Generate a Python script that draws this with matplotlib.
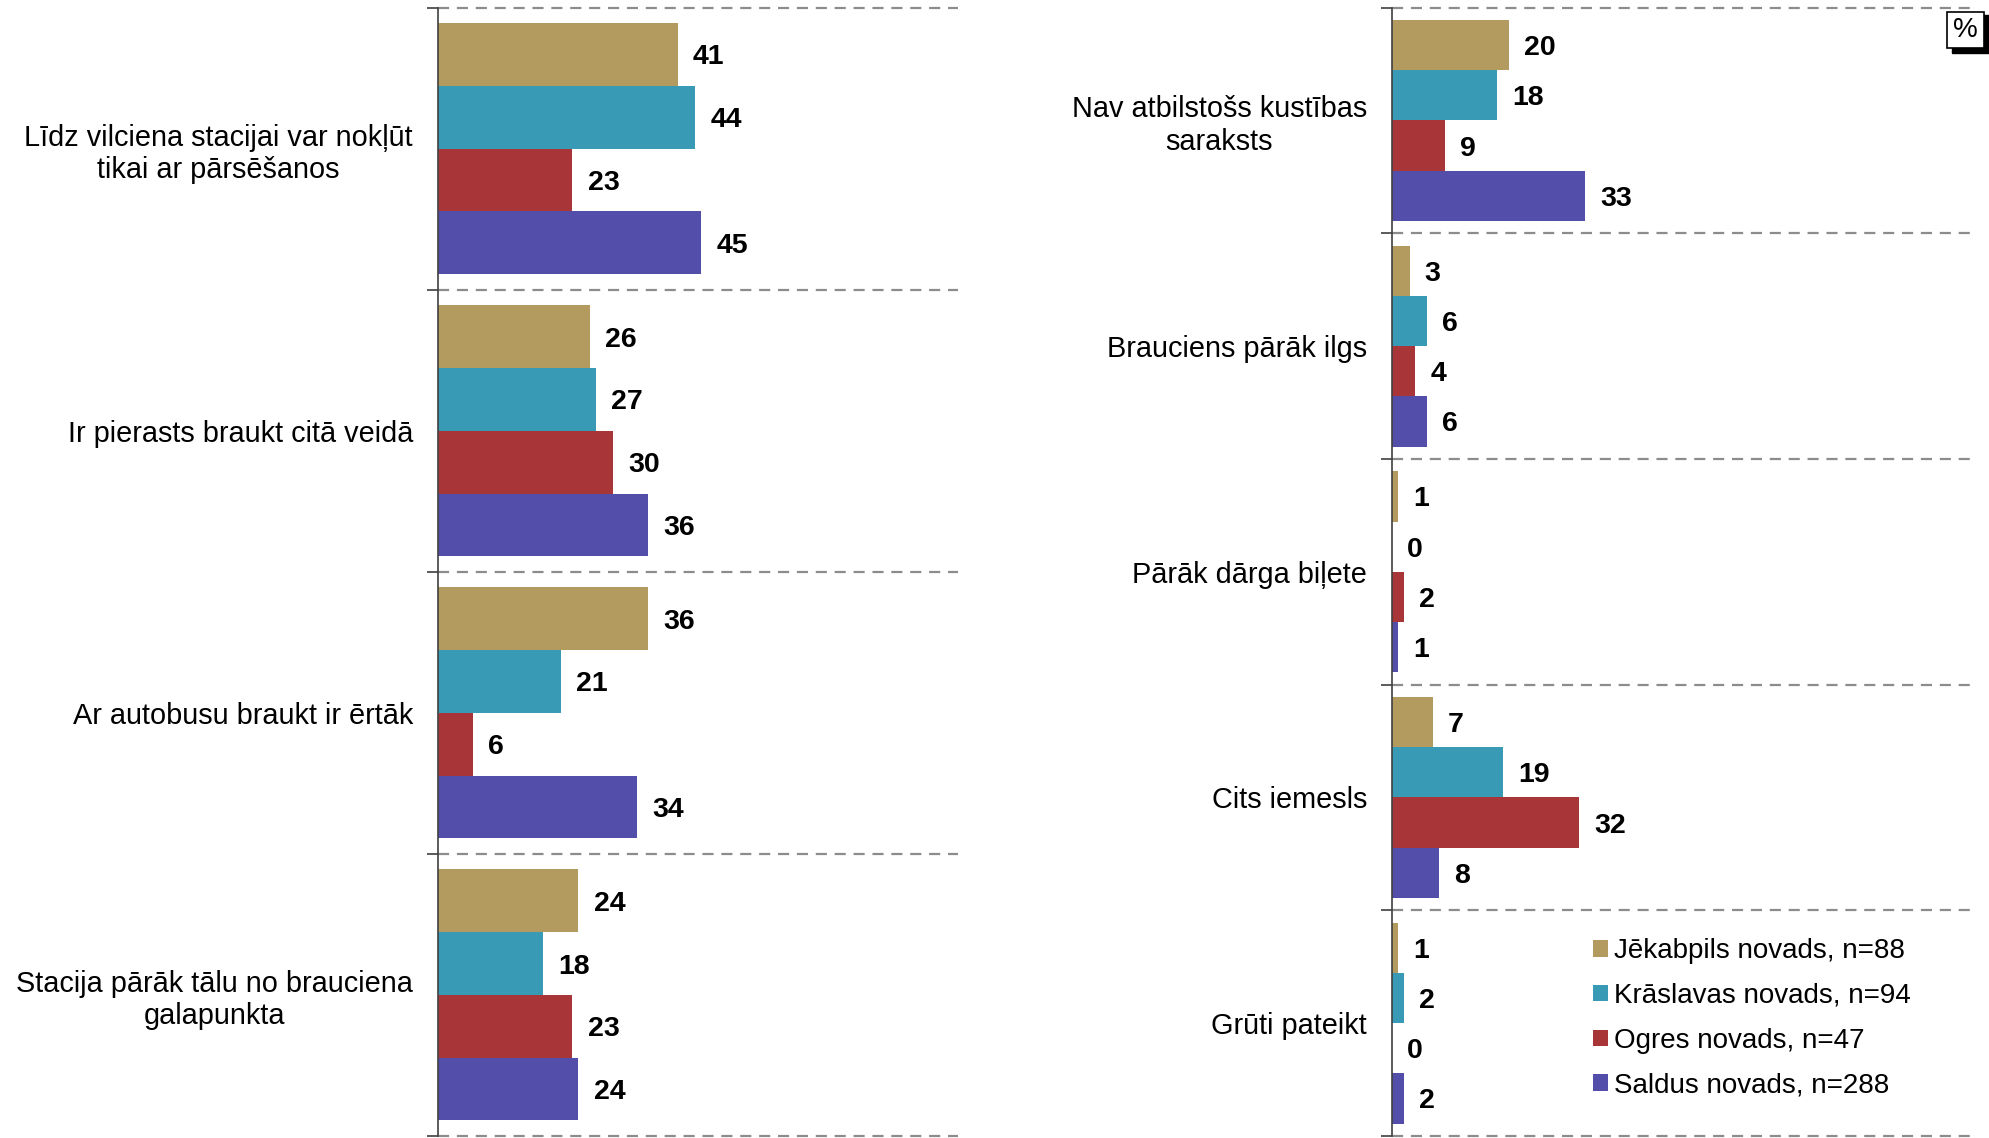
import matplotlib
matplotlib.use("Agg")
import matplotlib.pyplot as plt
from matplotlib.patches import Patch, Rectangle

plt.rcParams['font.family'] = ['Liberation Sans', 'DejaVu Sans']

left_categories = [
    "Līdz vilciena stacijai var nokļūt\ntikai ar pārsēšanos",
    "Ir pierasts braukt citā veidā",
    "Ar autobusu braukt ir ērtāk",
    "Stacija pārāk tālu no brauciena\ngalapunkta",
]
right_categories = [
    "Nav atbilstošs kustības\nsaraksts",
    "Brauciens pārāk ilgs",
    "Pārāk dārga biļete",
    "Cits iemesls",
    "Grūti pateikt",
]
series_names = [
    "Jēkabpils novads, n=88",
    "Krāslavas novads, n=94",
    "Ogres novads, n=47",
    "Saldus novads, n=288",
]
jekabpils_left = [41, 26, 36, 24]
kraslavas_left = [44, 27, 21, 18]
ogres_left = [23, 30, 6, 23]
saldus_left = [45, 36, 34, 24]

jekabpils_right = [20, 3, 1, 7, 1]
kraslavas_right = [18, 6, 0, 19, 2]
ogres_right = [9, 4, 2, 32, 0]
saldus_right = [33, 6, 1, 8, 2]

colors = ["#B39B5F", "#399AB5", "#A83638", "#524EAA"]

W, H = 1990, 1138
fig = plt.figure(figsize=(W / 100, H / 100), dpi=100)

label_fs = 20.8
value_fs = 20.5


def draw_panel(ax, cats, series, xmax):
    n = len(cats)
    h = 0.89 / 4
    for k, vals in enumerate(series):
        ys = [i + (k - 1.5) * h for i in range(n)]
        ax.barh(ys, vals, height=h, color=colors[k], edgecolor='none')
        for y, v in zip(ys, vals):
            ax.annotate(f"{v}", (v, y), xytext=(11, 0), textcoords='offset points',
                        ha='left', va='center_baseline', fontsize=value_fs, fontweight='bold')
    ax.set_xlim(0, xmax)
    ax.set_ylim(n - 0.5, -0.5)
    bounds = [i - 0.5 for i in range(n + 1)]
    for b in bounds:
        ax.axhline(b, color='#8C8C8C', lw=1.6, ls=(0, (5, 3.5)), clip_on=False, zorder=0)
    ax.set_yticks(bounds)
    ax.set_yticklabels([])
    ax.set_yticks(list(range(n)), minor=True)
    ax.set_yticklabels(cats, minor=True, fontsize=label_fs, multialignment='center')
    ax.tick_params(axis='y', which='minor', length=0, pad=18)
    ax.tick_params(axis='y', which='major', length=8, width=1.2, color='#404040')
    ax.set_xticks([])
    for s in ['top', 'right', 'bottom']:
        ax.spines[s].set_visible(False)
    ax.spines['left'].set_color('#404040')
    ax.spines['left'].set_linewidth(1.2)


y_top = 1 - 7.6 / H
y_bot = 2 / H
axL = fig.add_axes([438 / W, y_bot, (958 - 438) / W, y_top - y_bot])
axR = fig.add_axes([1392 / W, y_bot, (1977 - 1392) / W, y_top - y_bot])

draw_panel(axL, left_categories, [jekabpils_left, kraslavas_left, ogres_left, saldus_left], 89)
draw_panel(axR, right_categories, [jekabpils_right, kraslavas_right, ogres_right, saldus_right], 100)

handles = [Patch(facecolor=c, edgecolor='none') for c in colors]
fig.legend(handles, series_names, loc='upper left',
           bbox_to_anchor=(1593 / W, 1 - 938 / H), frameon=False,
           fontsize=20, handlelength=0.55, handleheight=0.55,
           handletextpad=0.22, labelspacing=0.68, borderaxespad=0, borderpad=0)

# "%" box with shadow
fig.patches.append(Rectangle((1952 / W, 1 - 53 / H), 38 / W, 38 / H, transform=fig.transFigure,
                             facecolor='black', edgecolor='black', zorder=5))
fig.patches.append(Rectangle((1947 / W, 1 - 48 / H), 37 / W, 36 / H, transform=fig.transFigure,
                             facecolor='white', edgecolor='black', lw=1.2, zorder=6))
fig.text(1965.5 / W, 1 - 30 / H, "%", ha='center', va='center', fontsize=20, zorder=7)

fig.savefig("out.png", dpi=100)
